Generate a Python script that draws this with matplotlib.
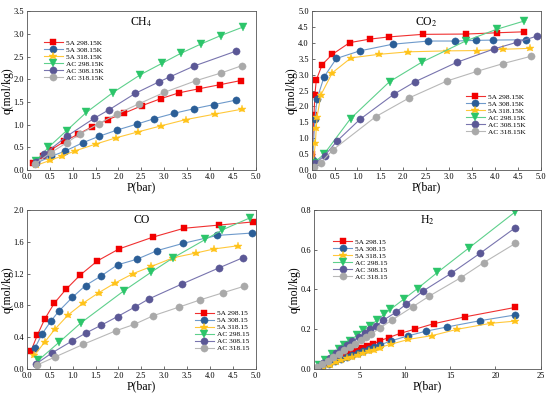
import numpy as np
import matplotlib.pyplot as plt

plt.rcParams['font.family'] = ['Liberation Serif', 'DejaVu Serif']
plt.rcParams['mathtext.fontset'] = 'stix'

# CH4
ch4_5a298_x = [0.13, 0.35, 0.52, 0.82, 1.12, 1.42, 1.77, 2.12, 2.52, 2.92, 3.32, 3.76, 4.22, 4.67]
ch4_5a298_y = [0.15, 0.3, 0.44, 0.63, 0.79, 0.95, 1.11, 1.25, 1.42, 1.57, 1.7, 1.79, 1.88, 1.97]
ch4_5a308_x = [0.2, 0.53, 0.84, 1.22, 1.57, 1.97, 2.4, 2.78, 3.22, 3.65, 4.08, 4.57]
ch4_5a308_y = [0.15, 0.3, 0.42, 0.6, 0.74, 0.88, 1.01, 1.13, 1.25, 1.35, 1.44, 1.54]
ch4_5a318_x = [0.2, 0.5, 0.77, 1.05, 1.5, 1.95, 2.43, 2.92, 3.47, 4.1, 4.7]
ch4_5a318_y = [0.1, 0.21, 0.31, 0.42, 0.57, 0.71, 0.84, 0.97, 1.11, 1.23, 1.34]
ch4_ac298_x = [0.2, 0.47, 0.87, 1.3, 1.87, 2.48, 2.95, 3.36, 3.81, 4.23, 4.72]
ch4_ac298_y = [0.2, 0.5, 0.87, 1.27, 1.7, 2.1, 2.35, 2.57, 2.78, 2.96, 3.15]
ch4_ac308_x = [0.2, 0.38, 0.88, 1.47, 1.8, 2.37, 2.88, 3.12, 3.65, 4.57]
ch4_ac308_y = [0.18, 0.35, 0.75, 1.14, 1.33, 1.69, 1.94, 2.05, 2.29, 2.62]
ch4_ac318_x = [0.17, 0.52, 0.87, 1.15, 1.57, 1.96, 2.45, 3.0, 3.7, 4.25, 4.7]
ch4_ac318_y = [0.13, 0.38, 0.6, 0.79, 1.02, 1.23, 1.46, 1.71, 1.97, 2.14, 2.3]

# CO2
co2_5a298_x = [0.01, 0.05, 0.07, 0.1, 0.23, 0.45, 0.83, 1.27, 1.69, 2.42, 3.38, 4.04, 4.64]
co2_5a298_y = [0.5, 1.73, 2.36, 2.83, 3.32, 3.64, 4.01, 4.12, 4.19, 4.27, 4.28, 4.32, 4.35]
co2_5a308_x = [0.02, 0.07, 0.12, 0.27, 0.54, 1.05, 1.77, 2.55, 3.14, 3.58, 3.97, 4.68]
co2_5a308_y = [0.3, 1.62, 2.25, 2.93, 3.51, 3.75, 3.96, 4.06, 4.06, 4.08, 4.09, 4.1]
co2_5a318_x = [0.03, 0.08, 0.1, 0.12, 0.2, 0.45, 0.86, 1.46, 2.11, 2.95, 3.62, 4.18, 4.77]
co2_5a318_y = [0.2, 0.84, 1.31, 1.68, 2.36, 3.06, 3.53, 3.64, 3.72, 3.75, 3.76, 3.8, 3.83]
co2_ac298_x = [0.04, 0.27, 0.85, 1.7, 2.4, 3.36, 4.04, 4.64]
co2_ac298_y = [0.21, 0.5, 1.62, 2.78, 3.39, 4.06, 4.43, 4.69]
co2_ac308_x = [0.08, 0.28, 0.56, 1.05, 1.8, 2.26, 3.17, 3.98, 4.48, 4.91]
co2_ac308_y = [0.21, 0.45, 0.92, 1.59, 2.39, 2.78, 3.39, 3.81, 4.02, 4.21]
co2_ac318_x = [0.05, 0.2, 0.46, 1.4, 2.13, 2.95, 3.62, 4.18, 4.79]
co2_ac318_y = [0.1, 0.23, 0.63, 1.68, 2.27, 2.8, 3.11, 3.35, 3.58]

# CO
co_5a298_x = [0.09, 0.23, 0.39, 0.6, 0.85, 1.16, 1.54, 2.01, 2.76, 3.43, 4.19, 4.94]
co_5a298_y = [0.23, 0.43, 0.63, 0.83, 1.0, 1.18, 1.36, 1.51, 1.66, 1.77, 1.81, 1.85]
co_5a308_x = [0.17, 0.33, 0.52, 0.7, 0.99, 1.28, 1.62, 1.98, 2.4, 2.85, 3.41, 4.16, 4.91]
co_5a308_y = [0.26, 0.44, 0.6, 0.73, 0.9, 1.05, 1.17, 1.31, 1.38, 1.49, 1.58, 1.68, 1.71]
co_5a318_x = [0.16, 0.39, 0.61, 0.9, 1.23, 1.57, 1.92, 2.32, 2.72, 3.2, 3.7, 4.09, 4.61]
co_5a318_y = [0.17, 0.34, 0.5, 0.68, 0.83, 0.96, 1.08, 1.2, 1.29, 1.4, 1.46, 1.51, 1.55]
co_ac298_x = [0.25, 0.71, 1.18, 2.11, 2.72, 3.2, 3.9, 4.27, 4.87]
co_ac298_y = [0.11, 0.34, 0.58, 0.98, 1.22, 1.4, 1.63, 1.75, 1.9]
co_ac308_x = [0.19, 0.54, 0.98, 1.28, 1.62, 1.98, 2.36, 2.66, 3.39, 4.19, 4.72]
co_ac308_y = [0.06, 0.2, 0.35, 0.45, 0.55, 0.66, 0.78, 0.88, 1.07, 1.27, 1.4]
co_ac318_x = [0.22, 0.61, 1.23, 1.94, 2.34, 2.76, 3.33, 3.79, 4.29, 4.74]
co_ac318_y = [0.05, 0.15, 0.31, 0.48, 0.56, 0.67, 0.78, 0.87, 0.96, 1.04]

# H2
h2_5a298_x = [0.8, 1.5, 2.2, 2.8, 3.4, 4.0, 4.6, 5.2, 5.8, 6.5, 7.3, 8.2, 9.6, 11.1, 13.2, 16.6, 22.2]
h2_5a298_y = [0.015, 0.03, 0.045, 0.058, 0.07, 0.082, 0.093, 0.104, 0.114, 0.125, 0.143, 0.158, 0.181, 0.2, 0.228, 0.262, 0.31]
h2_5a308_x = [0.9, 1.6, 2.3, 3.0, 3.6, 4.2, 4.8, 5.4, 6.0, 6.6, 7.2, 8.5, 10.3, 12.3, 14.6, 18.3, 22.2]
h2_5a308_y = [0.012, 0.026, 0.038, 0.05, 0.06, 0.07, 0.08, 0.09, 0.1, 0.11, 0.12, 0.142, 0.166, 0.19, 0.211, 0.243, 0.272]
h2_5a318_x = [1.0, 1.7, 2.4, 3.0, 3.6, 4.2, 4.8, 5.4, 6.0, 6.6, 7.2, 8.5, 10.4, 13.0, 15.8, 19.5, 22.2]
h2_5a318_y = [0.01, 0.022, 0.033, 0.043, 0.053, 0.062, 0.072, 0.081, 0.09, 0.098, 0.108, 0.125, 0.149, 0.168, 0.2, 0.23, 0.241]
h2_ac298_x = [0.5, 1.2, 2.0, 2.7, 3.3, 3.9, 4.7, 5.4, 6.1, 6.9, 7.7, 8.4, 9.9, 11.4, 13.6, 17.1, 22.2]
h2_ac298_y = [0.02, 0.045, 0.075, 0.1, 0.12, 0.14, 0.17, 0.195, 0.215, 0.245, 0.275, 0.3, 0.352, 0.405, 0.486, 0.61, 0.791]
h2_ac308_x = [0.4, 1.0, 1.7, 2.4, 3.0, 3.6, 4.2, 4.9, 5.6, 6.2, 6.8, 7.6, 9.0, 10.1, 12.0, 15.1, 18.3, 22.2]
h2_ac308_y = [0.01, 0.03, 0.055, 0.08, 0.1, 0.12, 0.14, 0.16, 0.18, 0.2, 0.215, 0.245, 0.285, 0.325, 0.392, 0.481, 0.582, 0.711]
h2_ac318_x = [0.3, 0.9, 1.5, 2.1, 2.7, 3.3, 3.9, 4.5, 5.1, 5.7, 6.3, 7.2, 8.6, 10.9, 12.7, 16.2, 18.7, 22.2]
h2_ac318_y = [0.008, 0.025, 0.042, 0.06, 0.077, 0.095, 0.11, 0.125, 0.145, 0.16, 0.176, 0.205, 0.247, 0.314, 0.367, 0.46, 0.535, 0.632]

labels_k = ['5A 298.15K', '5A 308.15K', '5A 318.15K', 'AC 298.15K', 'AC 308.15K', 'AC 318.15K']
labels = ['5A 298.15', '5A 308.15', '5A 318.15', 'AC 298.15', 'AC 308.15', 'AC 318.15']

# marker, marker colour, line colour, size
styles = [
    ('s', '#F20000', '#F03030', 4.2),
    ('o', '#2B5E97', '#6E9ACB', 5.2),
    ('*', '#FFC31A', '#FFC83A', 6.2),
    ('v', '#2CC56A', '#5ED08C', 5.2),
    ('o', '#5B5896', '#7874AE', 5.2),
    ('o', '#A9A9A9', '#B8B8B8', 5.2),
]

fig = plt.figure(figsize=(5.5, 3.99), dpi=100)


def panel(rect, series, labs, xlim, ylim, xticks, yticks, title, leg_anchor):
    ax = fig.add_axes(rect)
    for (x, y), lab, (m, mc, lc, ms) in zip(series, labs, styles):
        ax.plot(x, y, color=lc, lw=0.8, marker=m, ms=ms, mfc=mc, mec=mc,
                mew=0.3, label=lab)
    ax.set_xlim(*xlim)
    ax.set_ylim(*ylim)
    ax.set_xticks(xticks)
    ax.set_yticks(yticks)
    ax.set_yticklabels(['{:.1f}'.format(v) for v in yticks])
    if xticks[-1] > 10:
        ax.set_xticklabels([str(int(v)) for v in xticks])
    else:
        ax.set_xticklabels(['{:.1f}'.format(v) for v in xticks])
    ax.tick_params(direction='in', length=2, width=0.5, labelsize=6,
                   colors='#333333', labelcolor='black')
    ax.tick_params(axis='x', pad=2.2)
    ax.tick_params(axis='y', pad=2.0)
    for s in ax.spines.values():
        s.set_linewidth(0.6)
        s.set_color('#555555')
    ax.set_xlabel('P(bar)', fontsize=8.5, labelpad=0.3)
    ax.set_ylabel('q(mol/kg)', fontsize=8.5, labelpad=0.3)
    ax.text(0.5, 0.975, title, transform=ax.transAxes, ha='center', va='top',
            fontsize=8.5)
    ax.legend(loc='upper left', bbox_to_anchor=leg_anchor, frameon=False,
              fontsize=5.3, handlelength=2.6, handletextpad=0.4,
              labelspacing=0.12, borderaxespad=0)
    return ax


panel([0.049, 0.574, 0.416, 0.398],
      [(ch4_5a298_x, ch4_5a298_y), (ch4_5a308_x, ch4_5a308_y), (ch4_5a318_x, ch4_5a318_y),
       (ch4_ac298_x, ch4_ac298_y), (ch4_ac308_x, ch4_ac308_y), (ch4_ac318_x, ch4_ac318_y)],
      labels_k, (0, 5), (0, 3.5), np.arange(0, 5.01, 0.5), np.arange(0, 3.51, 0.5),
      'CH$_4$', (0.06, 0.84))

panel([0.5667, 0.574, 0.4163, 0.398],
      [(co2_5a298_x, co2_5a298_y), (co2_5a308_x, co2_5a308_y), (co2_5a318_x, co2_5a318_y),
       (co2_ac298_x, co2_ac298_y), (co2_ac308_x, co2_ac308_y), (co2_ac318_x, co2_ac318_y)],
      labels_k, (0, 5), (0, 5), np.arange(0, 5.01, 0.5), np.arange(0, 5.01, 0.5),
      'CO$_2$', (0.66, 0.5))

panel([0.049, 0.0752, 0.416, 0.3985],
      [(co_5a298_x, co_5a298_y), (co_5a308_x, co_5a308_y), (co_5a318_x, co_5a318_y),
       (co_ac298_x, co_ac298_y), (co_ac308_x, co_ac308_y), (co_ac318_x, co_ac318_y)],
      labels, (0, 5), (0, 2.0), np.arange(0, 5.01, 0.5), np.arange(0, 2.01, 0.4),
      'CO', (0.72, 0.39))

panel([0.5715, 0.0752, 0.4116, 0.3985],
      [(h2_5a298_x, h2_5a298_y), (h2_5a308_x, h2_5a308_y), (h2_5a318_x, h2_5a318_y),
       (h2_ac298_x, h2_ac298_y), (h2_ac308_x, h2_ac308_y), (h2_ac318_x, h2_ac318_y)],
      labels, (0, 25), (0, 0.8), np.arange(0, 25.1, 5), np.arange(0, 0.81, 0.2),
      'H$_2$', (0.07, 0.84))

fig.savefig('out.png', dpi=100)
